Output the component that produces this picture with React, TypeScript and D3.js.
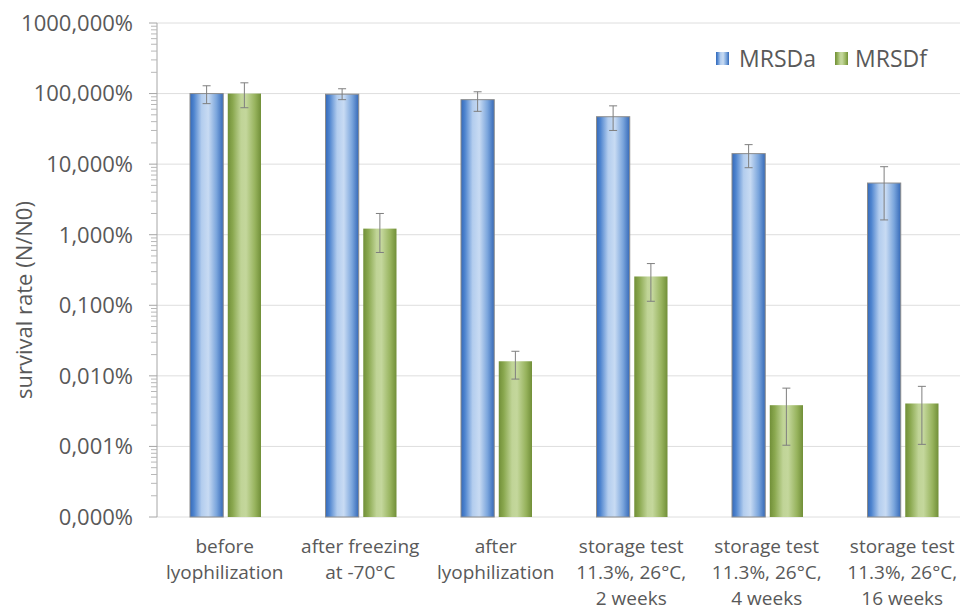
import React from "react";
import * as d3 from "d3";

const categories: string[][] = [
  ["before", "lyophilization"],
  ["after freezing", "at -70°C"],
  ["after", "lyophilization"],
  ["storage test", "11.3%, 26°C,", "2 weeks"],
  ["storage test", "11.3%, 26°C,", "4 weeks"],
  ["storage test", "11.3%, 26°C,", "16 weeks"],
];
const seriesNames = ["MRSDa", "MRSDf"];
// values in percent
const mrsdaValues = [100, 98, 82, 47, 14.1, 5.4];
const mrsdaErrHigh = [129, 117, 106, 67, 18.9, 9.2];
const mrsdaErrLow = [72, 82, 56, 30, 8.9, 1.62];
const mrsdfValues = [100, 1.22, 0.0161, 0.256, 0.00384, 0.00406];
const mrsdfErrHigh = [142, 2.0, 0.0223, 0.39, 0.0067, 0.0071];
const mrsdfErrLow = [63, 0.56, 0.009, 0.114, 0.00104, 0.00107];
const yTicks = [0.0001, 0.001, 0.01, 0.1, 1, 10, 100, 1000];
const yTickLabels = ["0,000%", "0,001%", "0,010%", "0,100%", "1,000%", "10,000%", "100,000%", "1000,000%"];

const W = 960;
const H = 610;
const left = 157;
const top = 23;
const bottom = 517;
const bandW = 135.5;
const right = left + bandW * categories.length;

const FONT = "'Open Sans', sans-serif";
const TEXT = "#595959";

export default function App() {
  const y = d3.scaleLog().domain([0.0001, 1000]).range([bottom, top]);
  const x0 = d3
    .scaleBand<number>()
    .domain(d3.range(categories.length))
    .range([left, right])
    .paddingInner(0)
    .paddingOuter(0);
  const x1 = d3
    .scaleBand<number>()
    .domain([0, 1])
    .range([33, 33 + 71])
    .paddingInner(0.12);

  const minor: number[] = [];
  for (let e = -4; e < 3; e++) {
    for (let m = 2; m <= 9; m++) minor.push(m * Math.pow(10, e));
  }

  const series = [
    { vals: mrsdaValues, hi: mrsdaErrHigh, lo: mrsdaErrLow, fill: "url(#gBlue)", stroke: "#8c8c8c" },
    { vals: mrsdfValues, hi: mrsdfErrHigh, lo: mrsdfErrLow, fill: "url(#gGreen)", stroke: "none" },
  ];

  return (
    <svg
      width={W}
      height={H}
      style={{ position: "absolute", left: 0, top: 0, background: "#fff" }}
      fontFamily={FONT}
    >
      <defs>
        <linearGradient id="gBlue" x1="0" x2="1" y1="0" y2="0">
          <stop offset="0%" stopColor="#3569b8" />
          <stop offset="12%" stopColor="#4f85cf" />
          <stop offset="35%" stopColor="#b3cdee" />
          <stop offset="55%" stopColor="#c8dbf3" />
          <stop offset="80%" stopColor="#7aa5dc" />
          <stop offset="100%" stopColor="#3569b8" />
        </linearGradient>
        <linearGradient id="gGreen" x1="0" x2="1" y1="0" y2="0">
          <stop offset="0%" stopColor="#718f38" />
          <stop offset="15%" stopColor="#8aa84f" />
          <stop offset="40%" stopColor="#c0d497" />
          <stop offset="55%" stopColor="#c4d79c" />
          <stop offset="82%" stopColor="#97b35d" />
          <stop offset="100%" stopColor="#718f38" />
        </linearGradient>
      </defs>

      {/* gridlines */}
      {yTicks.map((t, i) => (
        <line key={"g" + i} x1={left} x2={W} y1={y(t)} y2={y(t)} stroke="#dedede" strokeWidth={1} />
      ))}

      {/* axis */}
      <line x1={left} x2={left} y1={top} y2={bottom} stroke="#a6a6a6" strokeWidth={1} />
      {yTicks.map((t, i) => (
        <line key={"mt" + i} x1={left - 8} x2={left} y1={y(t)} y2={y(t)} stroke="#a6a6a6" />
      ))}
      {minor.map((t, i) => (
        <line key={"mn" + i} x1={left - 6} x2={left} y1={y(t)} y2={y(t)} stroke="#b8b8b8" />
      ))}
      {yTicks.map((t, i) => (
        <text
          key={"tl" + i}
          x={133}
          y={y(t)}
          dy="0.36em"
          textAnchor="end"
          fontSize={22}
          fill={TEXT}
        >
          {yTickLabels[i]}
        </text>
      ))}

      <text
        transform={`translate(24,300) rotate(-90)`}
        textAnchor="middle"
        dy="0.35em"
        fontSize={22}
        fill={TEXT}
      >
        survival rate (N/N0)
      </text>

      {/* bars */}
      {categories.map((_, ci) => (
        <g key={"c" + ci} transform={`translate(${x0(ci)},0)`}>
          {series.map((s, si) => {
            const bx = x1(si)!;
            const bw = x1.bandwidth();
            const yv = y(s.vals[ci]);
            const cx = bx + bw / 2;
            return (
              <g key={"b" + si}>
                <rect
                  x={bx}
                  y={yv}
                  width={bw}
                  height={bottom - yv}
                  fill={s.fill}
                  stroke={s.stroke}
                  strokeWidth={1}
                />
                <line x1={cx} x2={cx} y1={y(s.hi[ci])} y2={y(s.lo[ci])} stroke="#7f7f7f" strokeWidth={1} />
                <line x1={cx - 4} x2={cx + 4} y1={y(s.hi[ci])} y2={y(s.hi[ci])} stroke="#7f7f7f" strokeWidth={1} />
                <line x1={cx - 4} x2={cx + 4} y1={y(s.lo[ci])} y2={y(s.lo[ci])} stroke="#7f7f7f" strokeWidth={1} />
              </g>
            );
          })}
        </g>
      ))}

      {/* category labels */}
      {categories.map((lines, ci) => (
        <text
          key={"cl" + ci}
          x={x0(ci)! + bandW / 2}
          y={553}
          textAnchor="middle"
          fontSize={19}
          fill={TEXT}
        >
          {lines.map((l, li) => (
            <tspan key={li} x={x0(ci)! + bandW / 2} y={553 + li * 26}>
              {l}
            </tspan>
          ))}
        </text>
      ))}

      {/* legend */}
      <rect x={716} y={52} width={13} height={13} fill="url(#gBlue)" />
      <text x={739} y={58.5} dy="0.36em" fontSize={23} fill={TEXT}>
        {seriesNames[0]}
      </text>
      <rect x={835} y={52} width={13} height={13} fill="url(#gGreen)" />
      <text x={855} y={58.5} dy="0.36em" fontSize={23} fill={TEXT}>
        {seriesNames[1]}
      </text>
    </svg>
  );
}
